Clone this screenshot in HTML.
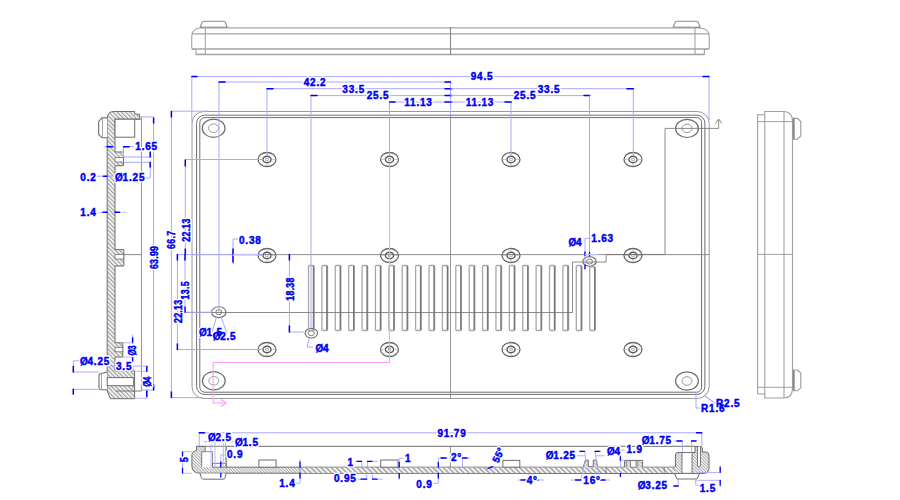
<!DOCTYPE html><html><head><meta charset="utf-8"><style>
html,body{margin:0;padding:0;background:#fff;}
svg{display:block;}
text{font-family:"Liberation Sans",sans-serif;font-weight:bold;}
</style></head><body>
<svg width="900" height="500" viewBox="0 0 900 500">
<defs>
<pattern id="h" patternUnits="userSpaceOnUse" width="2.2" height="2.2" patternTransform="rotate(-45)">
<rect width="2.2" height="2.2" fill="#f4f4f4"/><line x1="0.5" y1="0" x2="0.5" y2="2.2" stroke="#a0a0a0" stroke-width="0.8"/>
</pattern>
<pattern id="h3" patternUnits="userSpaceOnUse" width="3" height="3" patternTransform="rotate(-45)">
<rect width="3" height="3" fill="#f8f8f8"/><line x1="0.7" y1="0" x2="0.7" y2="3" stroke="#8a8a8a" stroke-width="1"/>
</pattern>
<pattern id="h2" patternUnits="userSpaceOnUse" width="3.6" height="3.6" patternTransform="rotate(-45)">
<rect width="3.6" height="3.6" fill="#f6f6f6"/><line x1="0.8" y1="0" x2="0.8" y2="3.6" stroke="#8c8c8c" stroke-width="1.2"/>
</pattern>
</defs>
<rect width="900" height="500" fill="#fff"/>

<path d="M200,27.5 L202,22.6 Q202.6,21.3 204,21.3 L223.3,21.3 Q224.7,21.3 225.3,22.6 L227.3,27.5" stroke="#8a8a8a" stroke-width="1.1" fill="none" />
<path d="M673,27.5 L675,22.6 Q675.6,21.3 677,21.3 L696.3,21.3 Q697.7,21.3 698.3,22.6 L700.2,27.5" stroke="#8a8a8a" stroke-width="1.1" fill="none" />
<line x1="200" y1="27.3" x2="227.3" y2="27.3" stroke="#777" stroke-width="1.2" />
<line x1="673" y1="27.3" x2="700.2" y2="27.3" stroke="#777" stroke-width="1.2" />
<path d="M205.3,28 L200,28 Q191.7,28.5 191.7,37 L191.7,47 Q191.7,49.5 195,49.5 L196,49.5 L196,54.4 L205.3,54.4" stroke="#a4a4a4" stroke-width="1.1" fill="none" />
<path d="M695,28 L700,28 Q709.3,28.5 709.3,37 L709.3,47 Q709.3,49.5 706,49.5 L704.4,49.5 L704.4,54.4 L695,54.4" stroke="#a4a4a4" stroke-width="1.1" fill="none" />
<line x1="205.3" y1="27.8" x2="695" y2="27.8" stroke="#a4a4a4" stroke-width="1.3" />
<line x1="191.7" y1="33.8" x2="709.3" y2="33.8" stroke="#a4a4a4" stroke-width="1.3" />
<line x1="191.7" y1="49" x2="709.3" y2="49" stroke="#a4a4a4" stroke-width="1.3" />
<line x1="196" y1="54.5" x2="704.4" y2="54.5" stroke="#a4a4a4" stroke-width="1.3" />
<line x1="205.3" y1="28" x2="205.3" y2="54.4" stroke="#a4a4a4" stroke-width="1.1" />
<line x1="695" y1="28" x2="695" y2="54.4" stroke="#a4a4a4" stroke-width="1.1" />
<line x1="450.5" y1="27" x2="450.5" y2="55" stroke="#888" stroke-width="1.1" />
<rect x="192" y="111.5" width="517.2" height="287" rx="12" stroke="#9a9a9a" stroke-width="1" fill="none"/>
<rect x="196.6" y="115.2" width="508.3" height="279.2" rx="8" stroke="#6e6e6e" stroke-width="1" fill="none"/>
<rect x="199.8" y="117.6" width="501.8" height="274.6" rx="5" stroke="#6e6e6e" stroke-width="1" fill="none"/>
<line x1="192" y1="254.6" x2="709" y2="254.6" stroke="#808080" stroke-width="0.9" />
<line x1="450.5" y1="115" x2="450.5" y2="398.5" stroke="#8a8a8a" stroke-width="0.9" />
<ellipse cx="267" cy="159.5" rx="9" ry="7" stroke="#666" stroke-width="1.3" fill="none"/>
<ellipse cx="267" cy="159.5" rx="4.1" ry="3.2" stroke="#555" stroke-width="1.4" fill="none"/>
<rect x="265.8" y="158.6" width="2.4" height="1.8" fill="none" stroke="#888" stroke-width="0.6"/>
<line x1="258" y1="159.5" x2="262.9" y2="159.5" stroke="#aaa" stroke-width="0.6" />
<line x1="271.1" y1="159.5" x2="276" y2="159.5" stroke="#aaa" stroke-width="0.6" />
<line x1="267" y1="152.5" x2="267" y2="156.3" stroke="#aaa" stroke-width="0.6" />
<line x1="267" y1="162.7" x2="267" y2="166.5" stroke="#aaa" stroke-width="0.6" />
<ellipse cx="389.5" cy="159.5" rx="9" ry="7" stroke="#666" stroke-width="1.3" fill="none"/>
<ellipse cx="389.5" cy="159.5" rx="4.1" ry="3.2" stroke="#555" stroke-width="1.4" fill="none"/>
<rect x="388.3" y="158.6" width="2.4" height="1.8" fill="none" stroke="#888" stroke-width="0.6"/>
<line x1="380.5" y1="159.5" x2="385.4" y2="159.5" stroke="#aaa" stroke-width="0.6" />
<line x1="393.6" y1="159.5" x2="398.5" y2="159.5" stroke="#aaa" stroke-width="0.6" />
<line x1="389.5" y1="152.5" x2="389.5" y2="156.3" stroke="#aaa" stroke-width="0.6" />
<line x1="389.5" y1="162.7" x2="389.5" y2="166.5" stroke="#aaa" stroke-width="0.6" />
<ellipse cx="511" cy="159.5" rx="9" ry="7" stroke="#666" stroke-width="1.3" fill="none"/>
<ellipse cx="511" cy="159.5" rx="4.1" ry="3.2" stroke="#555" stroke-width="1.4" fill="none"/>
<rect x="509.8" y="158.6" width="2.4" height="1.8" fill="none" stroke="#888" stroke-width="0.6"/>
<line x1="502" y1="159.5" x2="506.9" y2="159.5" stroke="#aaa" stroke-width="0.6" />
<line x1="515.1" y1="159.5" x2="520" y2="159.5" stroke="#aaa" stroke-width="0.6" />
<line x1="511" y1="152.5" x2="511" y2="156.3" stroke="#aaa" stroke-width="0.6" />
<line x1="511" y1="162.7" x2="511" y2="166.5" stroke="#aaa" stroke-width="0.6" />
<ellipse cx="633" cy="159.5" rx="9" ry="7" stroke="#666" stroke-width="1.3" fill="none"/>
<ellipse cx="633" cy="159.5" rx="4.1" ry="3.2" stroke="#555" stroke-width="1.4" fill="none"/>
<rect x="631.8" y="158.6" width="2.4" height="1.8" fill="none" stroke="#888" stroke-width="0.6"/>
<line x1="624" y1="159.5" x2="628.9" y2="159.5" stroke="#aaa" stroke-width="0.6" />
<line x1="637.1" y1="159.5" x2="642" y2="159.5" stroke="#aaa" stroke-width="0.6" />
<line x1="633" y1="152.5" x2="633" y2="156.3" stroke="#aaa" stroke-width="0.6" />
<line x1="633" y1="162.7" x2="633" y2="166.5" stroke="#aaa" stroke-width="0.6" />
<ellipse cx="267" cy="255.5" rx="9" ry="7" stroke="#666" stroke-width="1.3" fill="none"/>
<ellipse cx="267" cy="255.5" rx="4.1" ry="3.2" stroke="#555" stroke-width="1.4" fill="none"/>
<rect x="265.8" y="254.6" width="2.4" height="1.8" fill="none" stroke="#888" stroke-width="0.6"/>
<line x1="258" y1="255.5" x2="262.9" y2="255.5" stroke="#aaa" stroke-width="0.6" />
<line x1="271.1" y1="255.5" x2="276" y2="255.5" stroke="#aaa" stroke-width="0.6" />
<line x1="267" y1="248.5" x2="267" y2="252.3" stroke="#aaa" stroke-width="0.6" />
<line x1="267" y1="258.7" x2="267" y2="262.5" stroke="#aaa" stroke-width="0.6" />
<ellipse cx="389.5" cy="255.5" rx="9" ry="7" stroke="#666" stroke-width="1.3" fill="none"/>
<ellipse cx="389.5" cy="255.5" rx="4.1" ry="3.2" stroke="#555" stroke-width="1.4" fill="none"/>
<rect x="388.3" y="254.6" width="2.4" height="1.8" fill="none" stroke="#888" stroke-width="0.6"/>
<line x1="380.5" y1="255.5" x2="385.4" y2="255.5" stroke="#aaa" stroke-width="0.6" />
<line x1="393.6" y1="255.5" x2="398.5" y2="255.5" stroke="#aaa" stroke-width="0.6" />
<line x1="389.5" y1="248.5" x2="389.5" y2="252.3" stroke="#aaa" stroke-width="0.6" />
<line x1="389.5" y1="258.7" x2="389.5" y2="262.5" stroke="#aaa" stroke-width="0.6" />
<ellipse cx="511" cy="255.5" rx="9" ry="7" stroke="#666" stroke-width="1.3" fill="none"/>
<ellipse cx="511" cy="255.5" rx="4.1" ry="3.2" stroke="#555" stroke-width="1.4" fill="none"/>
<rect x="509.8" y="254.6" width="2.4" height="1.8" fill="none" stroke="#888" stroke-width="0.6"/>
<line x1="502" y1="255.5" x2="506.9" y2="255.5" stroke="#aaa" stroke-width="0.6" />
<line x1="515.1" y1="255.5" x2="520" y2="255.5" stroke="#aaa" stroke-width="0.6" />
<line x1="511" y1="248.5" x2="511" y2="252.3" stroke="#aaa" stroke-width="0.6" />
<line x1="511" y1="258.7" x2="511" y2="262.5" stroke="#aaa" stroke-width="0.6" />
<ellipse cx="633" cy="255.5" rx="9" ry="7" stroke="#666" stroke-width="1.3" fill="none"/>
<ellipse cx="633" cy="255.5" rx="4.1" ry="3.2" stroke="#555" stroke-width="1.4" fill="none"/>
<rect x="631.8" y="254.6" width="2.4" height="1.8" fill="none" stroke="#888" stroke-width="0.6"/>
<line x1="624" y1="255.5" x2="628.9" y2="255.5" stroke="#aaa" stroke-width="0.6" />
<line x1="637.1" y1="255.5" x2="642" y2="255.5" stroke="#aaa" stroke-width="0.6" />
<line x1="633" y1="248.5" x2="633" y2="252.3" stroke="#aaa" stroke-width="0.6" />
<line x1="633" y1="258.7" x2="633" y2="262.5" stroke="#aaa" stroke-width="0.6" />
<ellipse cx="267" cy="349.5" rx="9" ry="7" stroke="#666" stroke-width="1.3" fill="none"/>
<ellipse cx="267" cy="349.5" rx="4.1" ry="3.2" stroke="#555" stroke-width="1.4" fill="none"/>
<rect x="265.8" y="348.6" width="2.4" height="1.8" fill="none" stroke="#888" stroke-width="0.6"/>
<line x1="258" y1="349.5" x2="262.9" y2="349.5" stroke="#aaa" stroke-width="0.6" />
<line x1="271.1" y1="349.5" x2="276" y2="349.5" stroke="#aaa" stroke-width="0.6" />
<line x1="267" y1="342.5" x2="267" y2="346.3" stroke="#aaa" stroke-width="0.6" />
<line x1="267" y1="352.7" x2="267" y2="356.5" stroke="#aaa" stroke-width="0.6" />
<ellipse cx="389.5" cy="349.5" rx="9" ry="7" stroke="#666" stroke-width="1.3" fill="none"/>
<ellipse cx="389.5" cy="349.5" rx="4.1" ry="3.2" stroke="#555" stroke-width="1.4" fill="none"/>
<rect x="388.3" y="348.6" width="2.4" height="1.8" fill="none" stroke="#888" stroke-width="0.6"/>
<line x1="380.5" y1="349.5" x2="385.4" y2="349.5" stroke="#aaa" stroke-width="0.6" />
<line x1="393.6" y1="349.5" x2="398.5" y2="349.5" stroke="#aaa" stroke-width="0.6" />
<line x1="389.5" y1="342.5" x2="389.5" y2="346.3" stroke="#aaa" stroke-width="0.6" />
<line x1="389.5" y1="352.7" x2="389.5" y2="356.5" stroke="#aaa" stroke-width="0.6" />
<ellipse cx="511" cy="349.5" rx="9" ry="7" stroke="#666" stroke-width="1.3" fill="none"/>
<ellipse cx="511" cy="349.5" rx="4.1" ry="3.2" stroke="#555" stroke-width="1.4" fill="none"/>
<rect x="509.8" y="348.6" width="2.4" height="1.8" fill="none" stroke="#888" stroke-width="0.6"/>
<line x1="502" y1="349.5" x2="506.9" y2="349.5" stroke="#aaa" stroke-width="0.6" />
<line x1="515.1" y1="349.5" x2="520" y2="349.5" stroke="#aaa" stroke-width="0.6" />
<line x1="511" y1="342.5" x2="511" y2="346.3" stroke="#aaa" stroke-width="0.6" />
<line x1="511" y1="352.7" x2="511" y2="356.5" stroke="#aaa" stroke-width="0.6" />
<ellipse cx="633" cy="349.5" rx="9" ry="7" stroke="#666" stroke-width="1.3" fill="none"/>
<ellipse cx="633" cy="349.5" rx="4.1" ry="3.2" stroke="#555" stroke-width="1.4" fill="none"/>
<rect x="631.8" y="348.6" width="2.4" height="1.8" fill="none" stroke="#888" stroke-width="0.6"/>
<line x1="624" y1="349.5" x2="628.9" y2="349.5" stroke="#aaa" stroke-width="0.6" />
<line x1="637.1" y1="349.5" x2="642" y2="349.5" stroke="#aaa" stroke-width="0.6" />
<line x1="633" y1="342.5" x2="633" y2="346.3" stroke="#aaa" stroke-width="0.6" />
<line x1="633" y1="352.7" x2="633" y2="356.5" stroke="#aaa" stroke-width="0.6" />
<ellipse cx="213.6" cy="128.2" rx="11.4" ry="9.1" stroke="#6e6e6e" stroke-width="1.2" fill="none"/>
<ellipse cx="213.6" cy="128.2" rx="5" ry="4.3" stroke="#9a9a9a" stroke-width="1" fill="none"/>
<ellipse cx="687" cy="128.4" rx="11.4" ry="9.1" stroke="#6e6e6e" stroke-width="1.2" fill="none"/>
<ellipse cx="687" cy="128.4" rx="5" ry="4.3" stroke="#9a9a9a" stroke-width="1" fill="none"/>
<ellipse cx="213.8" cy="380.8" rx="11.4" ry="9.1" stroke="#6e6e6e" stroke-width="1.2" fill="none"/>
<ellipse cx="213.8" cy="380.8" rx="5" ry="4.3" stroke="#9a9a9a" stroke-width="1" fill="none"/>
<ellipse cx="687" cy="381" rx="11.4" ry="9.1" stroke="#6e6e6e" stroke-width="1.2" fill="none"/>
<ellipse cx="687" cy="381" rx="5" ry="4.3" stroke="#9a9a9a" stroke-width="1" fill="none"/>
<ellipse cx="218.8" cy="312.2" rx="7.2" ry="5.4" stroke="#6e6e6e" stroke-width="1.1" fill="none"/>
<ellipse cx="218.8" cy="312.2" rx="3" ry="2.5" stroke="#6e6e6e" stroke-width="0.9" fill="none"/>
<ellipse cx="311.3" cy="333.2" rx="6.2" ry="4.8" stroke="#6e6e6e" stroke-width="1.1" fill="none"/>
<ellipse cx="311.3" cy="333.2" rx="3" ry="2.5" stroke="#6e6e6e" stroke-width="0.9" fill="none"/>
<ellipse cx="589.5" cy="261.5" rx="6.7" ry="4.7" stroke="#6e6e6e" stroke-width="1.1" fill="none"/>
<ellipse cx="589.5" cy="261.5" rx="3" ry="2.5" stroke="#6e6e6e" stroke-width="0.9" fill="none"/>
<rect x="308.5" y="265.5" width="5.6" height="65.0" rx="1" stroke="#a8a8a8" stroke-width="1.3" fill="none"/>
<line x1="313.5" y1="266.0" x2="313.5" y2="330" stroke="#777" stroke-width="1.4" />
<rect x="321.89" y="265.5" width="5.6" height="65.0" rx="1" stroke="#a8a8a8" stroke-width="1.3" fill="none"/>
<line x1="326.89" y1="266.0" x2="326.89" y2="330" stroke="#777" stroke-width="1.4" />
<rect x="335.28" y="265.5" width="5.6" height="65.0" rx="1" stroke="#a8a8a8" stroke-width="1.3" fill="none"/>
<line x1="340.28" y1="266.0" x2="340.28" y2="330" stroke="#777" stroke-width="1.4" />
<rect x="348.67" y="265.5" width="5.6" height="65.0" rx="1" stroke="#a8a8a8" stroke-width="1.3" fill="none"/>
<line x1="353.67" y1="266.0" x2="353.67" y2="330" stroke="#777" stroke-width="1.4" />
<rect x="362.06" y="265.5" width="5.6" height="65.0" rx="1" stroke="#a8a8a8" stroke-width="1.3" fill="none"/>
<line x1="367.06" y1="266.0" x2="367.06" y2="330" stroke="#777" stroke-width="1.4" />
<rect x="375.45" y="265.5" width="5.6" height="65.0" rx="1" stroke="#a8a8a8" stroke-width="1.3" fill="none"/>
<line x1="380.45" y1="266.0" x2="380.45" y2="330" stroke="#777" stroke-width="1.4" />
<rect x="388.84000000000003" y="265.5" width="5.6" height="65.0" rx="1" stroke="#a8a8a8" stroke-width="1.3" fill="none"/>
<line x1="393.84000000000003" y1="266.0" x2="393.84000000000003" y2="330" stroke="#777" stroke-width="1.4" />
<rect x="402.23" y="265.5" width="5.6" height="65.0" rx="1" stroke="#a8a8a8" stroke-width="1.3" fill="none"/>
<line x1="407.23" y1="266.0" x2="407.23" y2="330" stroke="#777" stroke-width="1.4" />
<rect x="415.62" y="265.5" width="5.6" height="65.0" rx="1" stroke="#a8a8a8" stroke-width="1.3" fill="none"/>
<line x1="420.62" y1="266.0" x2="420.62" y2="330" stroke="#777" stroke-width="1.4" />
<rect x="429.01" y="265.5" width="5.6" height="65.0" rx="1" stroke="#a8a8a8" stroke-width="1.3" fill="none"/>
<line x1="434.01" y1="266.0" x2="434.01" y2="330" stroke="#777" stroke-width="1.4" />
<rect x="442.4" y="265.5" width="5.6" height="65.0" rx="1" stroke="#a8a8a8" stroke-width="1.3" fill="none"/>
<line x1="447.4" y1="266.0" x2="447.4" y2="330" stroke="#777" stroke-width="1.4" />
<rect x="455.79" y="265.5" width="5.6" height="65.0" rx="1" stroke="#a8a8a8" stroke-width="1.3" fill="none"/>
<line x1="460.79" y1="266.0" x2="460.79" y2="330" stroke="#777" stroke-width="1.4" />
<rect x="469.18" y="265.5" width="5.6" height="65.0" rx="1" stroke="#a8a8a8" stroke-width="1.3" fill="none"/>
<line x1="474.18" y1="266.0" x2="474.18" y2="330" stroke="#777" stroke-width="1.4" />
<rect x="482.57" y="265.5" width="5.6" height="65.0" rx="1" stroke="#a8a8a8" stroke-width="1.3" fill="none"/>
<line x1="487.57" y1="266.0" x2="487.57" y2="330" stroke="#777" stroke-width="1.4" />
<rect x="495.96000000000004" y="265.5" width="5.6" height="65.0" rx="1" stroke="#a8a8a8" stroke-width="1.3" fill="none"/>
<line x1="500.96000000000004" y1="266.0" x2="500.96000000000004" y2="330" stroke="#777" stroke-width="1.4" />
<rect x="509.35" y="265.5" width="5.6" height="65.0" rx="1" stroke="#a8a8a8" stroke-width="1.3" fill="none"/>
<line x1="514.35" y1="266.0" x2="514.35" y2="330" stroke="#777" stroke-width="1.4" />
<rect x="522.74" y="265.5" width="5.6" height="65.0" rx="1" stroke="#a8a8a8" stroke-width="1.3" fill="none"/>
<line x1="527.74" y1="266.0" x2="527.74" y2="330" stroke="#777" stroke-width="1.4" />
<rect x="536.13" y="265.5" width="5.6" height="65.0" rx="1" stroke="#a8a8a8" stroke-width="1.3" fill="none"/>
<line x1="541.13" y1="266.0" x2="541.13" y2="330" stroke="#777" stroke-width="1.4" />
<rect x="549.52" y="265.5" width="5.6" height="65.0" rx="1" stroke="#a8a8a8" stroke-width="1.3" fill="none"/>
<line x1="554.52" y1="266.0" x2="554.52" y2="330" stroke="#777" stroke-width="1.4" />
<rect x="562.9100000000001" y="265.5" width="5.6" height="65.0" rx="1" stroke="#a8a8a8" stroke-width="1.3" fill="none"/>
<line x1="567.9100000000001" y1="266.0" x2="567.9100000000001" y2="330" stroke="#777" stroke-width="1.4" />
<rect x="576.3" y="265.5" width="5.6" height="65.0" rx="1" stroke="#a8a8a8" stroke-width="1.3" fill="none"/>
<line x1="581.3" y1="266.0" x2="581.3" y2="330" stroke="#777" stroke-width="1.4" />
<rect x="589.69" y="267" width="5.6" height="63.5" rx="1" stroke="#a8a8a8" stroke-width="1.3" fill="none"/>
<line x1="594.69" y1="267.5" x2="594.69" y2="330" stroke="#777" stroke-width="1.4" />
<path d="M185,312.5 L572.5,312.5 L572.5,262 L590,262 L606.2,262 L606.2,254.6" stroke="#6e6e6e" stroke-width="0.8" fill="none" />
<path d="M607,254.6 L665,254.6 L665,128.4 L718.7,128.4 L718.7,120" stroke="#6e6e6e" stroke-width="0.8" fill="none" />
<path d="M715.5,123.5 L718.7,119 L721.9,123.5" stroke="#6e6e6e" stroke-width="0.8" fill="none" />
<path d="M107.2,390 L107.2,118.5 Q107.2,111.5 114,111.5 L134.7,111.5 L134.7,114.2 L139.7,114.2 L139.7,119.2 L115,119.2 L115,152 L123.5,152 L123.5,165.7 L115,165.7 L115,249.6 L123.8,249.6 L123.8,266 L115,266 L115,342.8 L122.8,342.8 L122.8,357 L115,357 L115,370.8 L134.6,370.8 L134.6,398.7 L110.3,398.7 L107.2,391 Z" stroke="#6e6e6e" stroke-width="1" fill="url(#h3)" />
<rect x="115" y="119.2" width="19.7" height="18" rx="0" stroke="#6e6e6e" stroke-width="1" fill="#fff"/>
<line x1="134.7" y1="119.2" x2="141.5" y2="119.2" stroke="#6e6e6e" stroke-width="0.8" />
<rect x="115" y="157.6" width="8.5" height="4.4" rx="0" stroke="#6e6e6e" stroke-width="0.8" fill="#fff"/>
<rect x="115" y="254.4" width="8.8" height="4.6" rx="0" stroke="#6e6e6e" stroke-width="0.8" fill="#fff"/>
<rect x="115" y="347.3" width="7.8" height="4.5" rx="0" stroke="#6e6e6e" stroke-width="0.8" fill="#fff"/>
<line x1="123.8" y1="254.6" x2="141.5" y2="254.6" stroke="#6e6e6e" stroke-width="0.8" />
<path d="M107.2,117.9 L102,117.9 L98.7,121.5 L98.7,134.5 L102,137.8 L107.2,137.8" stroke="#6e6e6e" stroke-width="1.1" fill="#fff" />
<line x1="102.5" y1="118.2" x2="102.5" y2="137.5" stroke="#9a9a9a" stroke-width="0.9" />
<path d="M107.2,372.2 L100.5,373.5 Q99,373.7 99,375.5 L99,387.8 Q99,389.7 100.5,389.7 L107.2,389.7" stroke="#6e6e6e" stroke-width="1.1" fill="#fff" />
<line x1="101.5" y1="374" x2="101.5" y2="389.3" stroke="#9a9a9a" stroke-width="0.9" />
<rect x="107.2" y="377.6" width="26.5" height="8.1" rx="0" stroke="#6e6e6e" stroke-width="1" fill="#fff"/>
<line x1="115.7" y1="391" x2="141.5" y2="391" stroke="#6e6e6e" stroke-width="0.9" />
<line x1="141.5" y1="116.4" x2="141.5" y2="391" stroke="#9a9a9a" stroke-width="1.1" />
<path d="M757.6,394 L757.6,114.7 L764.8,114.7" stroke="#a0a0a0" stroke-width="1.1" fill="none" />
<path d="M764.8,398 L764.8,111.5 L784,111.5 Q792.5,112 792.5,121 L792.5,388 Q792.5,398 784,398 Z" stroke="#a0a0a0" stroke-width="1.1" fill="none" />
<line x1="784" y1="111.5" x2="784" y2="398" stroke="#a0a0a0" stroke-width="1.1" />
<line x1="757.6" y1="121.6" x2="792.5" y2="121.6" stroke="#a0a0a0" stroke-width="1" />
<line x1="757.6" y1="254.4" x2="792.5" y2="254.4" stroke="#a0a0a0" stroke-width="1" />
<line x1="757.6" y1="387.3" x2="792.5" y2="387.3" stroke="#a0a0a0" stroke-width="1" />
<line x1="757.6" y1="394" x2="764.8" y2="394" stroke="#a0a0a0" stroke-width="1.1" />
<path d="M792.5,118.4 L797.5,118.4 L800.8,121.5 L800.8,136 L797.5,139.2 L792.5,139.2" stroke="#999" stroke-width="1.1" fill="none" />
<line x1="793.8" y1="118.6" x2="793.8" y2="139" stroke="#888" stroke-width="1.8" />
<path d="M792.5,370 L797.5,370 L800.8,373 L800.8,387.8 L797.5,390.8 L792.5,390.8" stroke="#999" stroke-width="1.1" fill="none" />
<line x1="793.8" y1="370.2" x2="793.8" y2="390.6" stroke="#888" stroke-width="1.8" />
<path d="M226,467.2 L583.2,467.2 L585.4,460.2 L588.3,460.2 L588.3,466.7 L593.3,466.7 L593.3,460.2 L596.4,460.2 L597.6,467.2 L624.6,467.2 L624.6,460.4 L642.6,460.4 L642.6,467.2 L675.5,467.2 L675.5,455 Q675.5,452.5 678,452.5 L695,452.5 L695,446.5 L700.5,446.5 Q702.5,446.5 702.5,449 L702.5,452 L706,452 Q709,452 709,455.5 L709,468 Q709,473.5 703,473.5 L226,473.2 Q221,473.2 199.7,473.2 Q191.9,473 191.9,466 L191.9,455 Q191.9,451.5 196.5,450.4 L196.5,446.5 L226,446.5 Z" stroke="#6e6e6e" stroke-width="1" fill="url(#h)" />
<line x1="196.5" y1="446.3" x2="695" y2="446.3" stroke="#6e6e6e" stroke-width="1" />
<rect x="300.5" y="467.6" width="375" height="5.3" rx="0" stroke="none" stroke-width="0" fill="url(#h2)"/>
<line x1="450.4" y1="446.3" x2="450.4" y2="467.2" stroke="#6e6e6e" stroke-width="0.8" />
<path d="M201.7,467.2 L201.7,451.7 L205.2,451.7 L205.2,446.8 L226,446.8 L226,467.2 Z" stroke="#fff" stroke-width="0.1" fill="#fff" />
<path d="M201.7,467.2 L201.7,451.7 L205.2,451.7 L205.2,446.8" stroke="#6e6e6e" stroke-width="0.9" fill="none" />
<line x1="205.2" y1="451.7" x2="212.5" y2="451.7" stroke="#6e6e6e" stroke-width="0.8" />
<line x1="212.5" y1="451.7" x2="212.5" y2="467.2" stroke="#6e6e6e" stroke-width="0.8" />
<rect x="212.5" y="463.3" width="13.3" height="3.9" rx="0" stroke="#6e6e6e" stroke-width="0.9" fill="#fff"/>
<line x1="226" y1="446.5" x2="226" y2="467.2" stroke="#6e6e6e" stroke-width="0.9" />
<path d="M200.2,473.4 L201.2,477.4 Q201.8,479.2 203.5,479.2 L223,479.2 Q224.7,479.2 225.2,477.4 L226,473.4" stroke="#6e6e6e" stroke-width="1" fill="#fff" />
<path d="M674.5,473.5 L677,479 L697,479 L699.5,473.5 Z" stroke="#6e6e6e" stroke-width="1" fill="#fff" />
<rect x="630.6" y="460.6" width="5.4" height="6.6" rx="0" stroke="#6e6e6e" stroke-width="0.8" fill="#fff"/>
<line x1="626.4" y1="460.6" x2="626.4" y2="467.2" stroke="#6e6e6e" stroke-width="0.6" />
<line x1="637.8" y1="460.6" x2="637.8" y2="467.2" stroke="#6e6e6e" stroke-width="0.6" />
<path d="M682,452.5 L682,473.3 L692,473.3 L692,452.5 Z" stroke="#6e6e6e" stroke-width="0.9" fill="#fff" />
<path d="M697.5,446.7 L697.5,465.5 Q697.5,467 699,467 Q700.5,467 700.5,465.5 L700.5,446.7" stroke="#6e6e6e" stroke-width="0.9" fill="#fff" />
<rect x="258.9" y="460" width="17.2" height="7.2" rx="0" stroke="#6e6e6e" stroke-width="1" fill="#fff"/>
<rect x="380.7" y="460" width="17.3" height="7.2" rx="0" stroke="#6e6e6e" stroke-width="1" fill="#fff"/>
<rect x="502.9" y="460.4" width="16.9" height="6.8" rx="0" stroke="#6e6e6e" stroke-width="1" fill="#fff"/>
<line x1="300" y1="467.2" x2="300" y2="473.2" stroke="#6e6e6e" stroke-width="0.7" />
<line x1="606" y1="467.2" x2="606" y2="473.2" stroke="#6e6e6e" stroke-width="0.7" />
<line x1="664.3" y1="467.2" x2="664.3" y2="473.2" stroke="#6e6e6e" stroke-width="0.7" />
<line x1="450.5" y1="82" x2="450.5" y2="115" stroke="#a8a8ff" stroke-width="1" />
<path d="M389.5,166 L389.5,362.5 L213.2,362.5 L213.2,403 L226,403" stroke="#ff9cff" stroke-width="1.1" fill="none" />
<path d="M221,399.5 L226,403 L221,406.5" stroke="#ff9cff" stroke-width="1.2" fill="none" />
<line x1="191.8" y1="76.6" x2="709" y2="76.6" stroke="#a8a8ff" stroke-width="1" />
<line x1="191.8" y1="76.6" x2="191.8" y2="122" stroke="#a8a8ff" stroke-width="1" />
<line x1="709" y1="76.6" x2="709" y2="120" stroke="#a8a8ff" stroke-width="1" />
<line x1="191.8" y1="76.6" x2="197" y2="76.6" stroke="#0000ff" stroke-width="1.5" stroke-linecap="round"/>
<line x1="703" y1="76.6" x2="709" y2="76.6" stroke="#0000ff" stroke-width="1.5" stroke-linecap="round"/>
<line x1="219" y1="82" x2="450.5" y2="82" stroke="#a8a8ff" stroke-width="1" />
<line x1="219" y1="82" x2="219" y2="312" stroke="#a8a8ff" stroke-width="1" />
<line x1="219" y1="82" x2="225" y2="82" stroke="#0000ff" stroke-width="1.5" stroke-linecap="round"/>
<line x1="445" y1="82" x2="450.5" y2="82" stroke="#0000ff" stroke-width="1.5" stroke-linecap="round"/>
<line x1="267" y1="88.7" x2="450.5" y2="88.7" stroke="#a8a8ff" stroke-width="1" />
<line x1="267" y1="88.7" x2="267" y2="155.8" stroke="#a8a8ff" stroke-width="1" />
<line x1="267" y1="88.7" x2="273" y2="88.7" stroke="#0000ff" stroke-width="1.5" stroke-linecap="round"/>
<line x1="445" y1="88.7" x2="452" y2="88.7" stroke="#0000ff" stroke-width="1.5" stroke-linecap="round"/>
<line x1="450.5" y1="88.7" x2="633.3" y2="88.7" stroke="#a8a8ff" stroke-width="1" />
<line x1="633.3" y1="88.7" x2="633.3" y2="155.8" stroke="#a8a8ff" stroke-width="1" />
<line x1="627" y1="88.7" x2="633.3" y2="88.7" stroke="#0000ff" stroke-width="1.5" stroke-linecap="round"/>
<line x1="311" y1="95.6" x2="450.5" y2="95.6" stroke="#a8a8ff" stroke-width="1" />
<line x1="311" y1="95.6" x2="311" y2="328" stroke="#a8a8ff" stroke-width="1" />
<line x1="311" y1="95.6" x2="317" y2="95.6" stroke="#0000ff" stroke-width="1.5" stroke-linecap="round"/>
<line x1="445" y1="95.6" x2="452" y2="95.6" stroke="#0000ff" stroke-width="1.5" stroke-linecap="round"/>
<line x1="450.5" y1="95.6" x2="589.8" y2="95.6" stroke="#a8a8ff" stroke-width="1" />
<line x1="584" y1="95.6" x2="589.8" y2="95.6" stroke="#0000ff" stroke-width="1.5" stroke-linecap="round"/>
<line x1="389.7" y1="102" x2="450.5" y2="102" stroke="#a8a8ff" stroke-width="1" />
<line x1="389.5" y1="102" x2="389.5" y2="155.8" stroke="#a8a8ff" stroke-width="1" />
<line x1="389.7" y1="102" x2="395" y2="102" stroke="#0000ff" stroke-width="1.5" stroke-linecap="round"/>
<line x1="445" y1="102" x2="452" y2="102" stroke="#0000ff" stroke-width="1.5" stroke-linecap="round"/>
<line x1="450.5" y1="102" x2="511.2" y2="102" stroke="#a8a8ff" stroke-width="1" />
<line x1="511" y1="102" x2="511" y2="155.8" stroke="#a8a8ff" stroke-width="1" />
<line x1="505" y1="102" x2="511.2" y2="102" stroke="#0000ff" stroke-width="1.5" stroke-linecap="round"/>
<line x1="171.4" y1="111.5" x2="171.4" y2="397.6" stroke="#a8a8ff" stroke-width="1" />
<line x1="171" y1="111.2" x2="209" y2="111.2" stroke="#a8a8ff" stroke-width="1" />
<line x1="171" y1="397.6" x2="203" y2="397.6" stroke="#a8a8ff" stroke-width="1" />
<line x1="171.4" y1="111.5" x2="171.4" y2="117" stroke="#0000ff" stroke-width="1.5" stroke-linecap="round"/>
<line x1="171.4" y1="392" x2="171.4" y2="397.6" stroke="#0000ff" stroke-width="1.5" stroke-linecap="round"/>
<line x1="185.3" y1="160" x2="185.3" y2="254.6" stroke="#a8a8ff" stroke-width="1" />
<line x1="185.3" y1="159.5" x2="263" y2="159.5" stroke="#a8a8ff" stroke-width="1" />
<line x1="185.3" y1="160" x2="185.3" y2="166" stroke="#0000ff" stroke-width="1.5" stroke-linecap="round"/>
<line x1="185.3" y1="249" x2="185.3" y2="254.6" stroke="#0000ff" stroke-width="1.5" stroke-linecap="round"/>
<line x1="177" y1="254.6" x2="263" y2="254.6" stroke="#a8a8ff" stroke-width="1" />
<line x1="185" y1="254.6" x2="185" y2="312.2" stroke="#a8a8ff" stroke-width="1" />
<line x1="185" y1="312.2" x2="212" y2="312.2" stroke="#a8a8ff" stroke-width="1" />
<line x1="185" y1="254.6" x2="185" y2="260" stroke="#0000ff" stroke-width="1.5" stroke-linecap="round"/>
<line x1="185" y1="307" x2="185" y2="312.2" stroke="#0000ff" stroke-width="1.5" stroke-linecap="round"/>
<line x1="177.4" y1="254.6" x2="177.4" y2="349.5" stroke="#a8a8ff" stroke-width="1" />
<line x1="177.4" y1="349.5" x2="263" y2="349.5" stroke="#a8a8ff" stroke-width="1" />
<line x1="177.4" y1="254.6" x2="177.4" y2="260" stroke="#0000ff" stroke-width="1.5" stroke-linecap="round"/>
<line x1="177.4" y1="344" x2="177.4" y2="349.5" stroke="#0000ff" stroke-width="1.5" stroke-linecap="round"/>
<path d="M233,264 L233,239 L239,239" stroke="#a8a8ff" stroke-width="1" fill="none" />
<line x1="233" y1="249" x2="233" y2="254.6" stroke="#0000ff" stroke-width="1.5" stroke-linecap="round"/>
<line x1="233" y1="256" x2="233" y2="262" stroke="#0000ff" stroke-width="1.5" stroke-linecap="round"/>
<line x1="233" y1="254.6" x2="258" y2="254.6" stroke="#c0c0ff" stroke-width="1.5" />
<line x1="289.4" y1="254.6" x2="289.4" y2="332" stroke="#a8a8ff" stroke-width="1" />
<line x1="289.4" y1="332" x2="304" y2="332" stroke="#a8a8ff" stroke-width="1" />
<line x1="289.4" y1="254.6" x2="289.4" y2="260" stroke="#0000ff" stroke-width="1.5" stroke-linecap="round"/>
<line x1="289.4" y1="326" x2="289.4" y2="332" stroke="#0000ff" stroke-width="1.5" stroke-linecap="round"/>
<path d="M309,339 L307,347 L313,347" stroke="#a8a8ff" stroke-width="1" fill="none" />
<line x1="212" y1="332" x2="216.5" y2="317" stroke="#a8a8ff" stroke-width="1" />
<line x1="227" y1="333" x2="221" y2="317" stroke="#a8a8ff" stroke-width="1" />
<path d="M585,270 L585,238.4 L591.3,238.4" stroke="#a8a8ff" stroke-width="0.9" fill="none" />
<line x1="589.5" y1="95.6" x2="589.5" y2="256" stroke="#a8a8ff" stroke-width="1" />
<line x1="585" y1="252" x2="585" y2="255.5" stroke="#0000ff" stroke-width="1.3" stroke-linecap="round"/>
<line x1="589.5" y1="252.5" x2="589.5" y2="256" stroke="#0000ff" stroke-width="1.3" stroke-linecap="round"/>
<line x1="585" y1="265" x2="585" y2="268.5" stroke="#0000ff" stroke-width="1.3" stroke-linecap="round"/>
<line x1="585" y1="254.6" x2="598" y2="254.6" stroke="#c0c0ff" stroke-width="1.2" />
<line x1="704" y1="395" x2="716" y2="404" stroke="#a8a8ff" stroke-width="1.2" />
<path d="M696,393 L696,408 L702,408" stroke="#a8a8ff" stroke-width="1" fill="none" />
<line x1="153.6" y1="116.9" x2="153.6" y2="390" stroke="#a8a8ff" stroke-width="1" />
<line x1="141.5" y1="116.9" x2="153.6" y2="116.9" stroke="#a8a8ff" stroke-width="1" />
<line x1="141.5" y1="390" x2="153.6" y2="390" stroke="#a8a8ff" stroke-width="1" />
<line x1="153.6" y1="118" x2="153.6" y2="123" stroke="#0000ff" stroke-width="1.5" stroke-linecap="round"/>
<line x1="153.6" y1="385" x2="153.6" y2="390" stroke="#0000ff" stroke-width="1.5" stroke-linecap="round"/>
<path d="M123.5,157 L123.5,146.7 L133.5,146.7" stroke="#a8a8ff" stroke-width="1" fill="none" />
<line x1="123.5" y1="146.7" x2="129" y2="146.7" stroke="#0000ff" stroke-width="1.5" stroke-linecap="round"/>
<line x1="123.5" y1="157" x2="150.2" y2="157" stroke="#a8a8ff" stroke-width="1" />
<line x1="123.5" y1="162.3" x2="150.2" y2="162.3" stroke="#a8a8ff" stroke-width="1" />
<line x1="150.2" y1="150.7" x2="150.2" y2="157" stroke="#a8a8ff" stroke-width="1" />
<line x1="150.2" y1="162.3" x2="150.2" y2="178" stroke="#a8a8ff" stroke-width="1" />
<line x1="141.5" y1="178" x2="150.2" y2="178" stroke="#a8a8ff" stroke-width="1" />
<line x1="150.2" y1="152" x2="150.2" y2="157" stroke="#0000ff" stroke-width="1.5" stroke-linecap="round"/>
<line x1="150.2" y1="162.3" x2="150.2" y2="167" stroke="#0000ff" stroke-width="1.5" stroke-linecap="round"/>
<line x1="104.3" y1="146.7" x2="114.2" y2="146.7" stroke="#a8a8ff" stroke-width="1" />
<line x1="107" y1="146.7" x2="112.5" y2="146.7" stroke="#0000ff" stroke-width="1.5" stroke-linecap="round"/>
<line x1="96" y1="176.2" x2="112" y2="176.2" stroke="#a8a8ff" stroke-width="1" />
<line x1="103.5" y1="176.2" x2="107" y2="176.2" stroke="#0000ff" stroke-width="1.5" stroke-linecap="round"/>
<line x1="96" y1="212.3" x2="106" y2="212.3" stroke="#a8a8ff" stroke-width="1" stroke-dasharray="2.5,1.5"/>
<line x1="115" y1="212.3" x2="126.3" y2="212.3" stroke="#a8a8ff" stroke-width="1" stroke-dasharray="2.5,1.5"/>
<line x1="103" y1="212.3" x2="107" y2="212.3" stroke="#0000ff" stroke-width="1.5" stroke-linecap="round"/>
<line x1="115" y1="212.3" x2="119.5" y2="212.3" stroke="#0000ff" stroke-width="1.5" stroke-linecap="round"/>
<line x1="132.6" y1="334.5" x2="132.6" y2="342.8" stroke="#a8a8ff" stroke-width="1" />
<line x1="132.6" y1="357" x2="132.6" y2="361.5" stroke="#a8a8ff" stroke-width="1" />
<line x1="132.6" y1="338" x2="132.6" y2="342.8" stroke="#0000ff" stroke-width="1.5" stroke-linecap="round"/>
<line x1="132.6" y1="357" x2="132.6" y2="361.5" stroke="#0000ff" stroke-width="1.5" stroke-linecap="round"/>
<line x1="122.8" y1="342.8" x2="134" y2="342.8" stroke="#a8a8ff" stroke-width="0.8" />
<line x1="122.8" y1="357" x2="134" y2="357" stroke="#a8a8ff" stroke-width="0.8" />
<path d="M80,360.8 L73.3,360.8 L73.3,372 L98.8,372" stroke="#a8a8ff" stroke-width="1" fill="none" />
<path d="M73.3,395.3 L73.3,389.3 L98,389.3" stroke="#a8a8ff" stroke-width="1" fill="none" />
<line x1="73.3" y1="366.5" x2="73.3" y2="372" stroke="#0000ff" stroke-width="1.5" stroke-linecap="round"/>
<line x1="73.3" y1="389.3" x2="73.3" y2="394" stroke="#0000ff" stroke-width="1.5" stroke-linecap="round"/>
<line x1="110" y1="366" x2="116" y2="366" stroke="#a8a8ff" stroke-width="1" />
<path d="M133.3,371.5 L133.3,366 L146.8,366" stroke="#a8a8ff" stroke-width="1" fill="none" />
<line x1="134.7" y1="371.3" x2="147" y2="371.3" stroke="#a8a8ff" stroke-width="0.8" />
<line x1="146.8" y1="366" x2="146.8" y2="372" stroke="#a8a8ff" stroke-width="1" />
<line x1="146.8" y1="390" x2="146.8" y2="397.6" stroke="#a8a8ff" stroke-width="1" />
<line x1="146.8" y1="366.5" x2="146.8" y2="371.3" stroke="#0000ff" stroke-width="1.5" stroke-linecap="round"/>
<line x1="146.8" y1="391" x2="146.8" y2="396.5" stroke="#0000ff" stroke-width="1.5" stroke-linecap="round"/>
<line x1="134.6" y1="398.2" x2="148" y2="398.2" stroke="#a8a8ff" stroke-width="0.8" />
<line x1="199.2" y1="432.8" x2="701.8" y2="432.8" stroke="#a8a8ff" stroke-width="1" />
<line x1="199.2" y1="432.8" x2="199.2" y2="446.3" stroke="#a8a8ff" stroke-width="1" />
<line x1="701.8" y1="432.8" x2="701.8" y2="446.3" stroke="#a8a8ff" stroke-width="1" />
<line x1="199.2" y1="432.8" x2="204.5" y2="432.8" stroke="#0000ff" stroke-width="1.4" stroke-linecap="round"/>
<line x1="696.5" y1="432.8" x2="701.8" y2="432.8" stroke="#0000ff" stroke-width="1.4" stroke-linecap="round"/>
<line x1="204" y1="441.7" x2="235" y2="441.7" stroke="#a8a8ff" stroke-width="0.9" />
<line x1="211" y1="441.7" x2="211" y2="467" stroke="#a8a8ff" stroke-width="0.8" />
<line x1="215" y1="441.7" x2="215" y2="467" stroke="#a8a8ff" stroke-width="0.8" />
<line x1="223.3" y1="443" x2="223.3" y2="467" stroke="#a8a8ff" stroke-width="0.8" />
<line x1="225.5" y1="443" x2="225.5" y2="467" stroke="#a8a8ff" stroke-width="0.8" />
<path d="M220.8,467 L220.8,455 L225,455" stroke="#a8a8ff" stroke-width="0.9" fill="none" />
<line x1="220.8" y1="462" x2="220.8" y2="467" stroke="#0000ff" stroke-width="1.3" stroke-linecap="round"/>
<line x1="220.8" y1="473.5" x2="220.8" y2="477" stroke="#0000ff" stroke-width="1.3" stroke-linecap="round"/>
<line x1="182.5" y1="451.7" x2="182.5" y2="473.3" stroke="#a8a8ff" stroke-width="1" />
<line x1="182.5" y1="451.7" x2="192" y2="451.7" stroke="#a8a8ff" stroke-width="0.8" />
<line x1="182.5" y1="473.3" x2="192" y2="473.3" stroke="#a8a8ff" stroke-width="0.8" />
<line x1="182.5" y1="452" x2="182.5" y2="456.5" stroke="#0000ff" stroke-width="1.3" stroke-linecap="round"/>
<line x1="182.5" y1="468.5" x2="182.5" y2="473" stroke="#0000ff" stroke-width="1.3" stroke-linecap="round"/>
<path d="M300,459.2 L300,467 M300,473.3 L300,483.3 L295,483.3" stroke="#a8a8ff" stroke-width="0.9" fill="none" />
<line x1="300" y1="462" x2="300" y2="467" stroke="#0000ff" stroke-width="1.3" stroke-linecap="round"/>
<line x1="300" y1="473.5" x2="300" y2="478" stroke="#0000ff" stroke-width="1.3" stroke-linecap="round"/>
<path d="M355.8,461.3 L361.7,461.3 L361.7,467" stroke="#a8a8ff" stroke-width="0.9" fill="none" />
<line x1="357" y1="461.3" x2="361.7" y2="461.3" stroke="#0000ff" stroke-width="1.3" stroke-linecap="round"/>
<path d="M378,461.3 L367.5,461.3 L367.5,467" stroke="#a8a8ff" stroke-width="0.9" fill="none" />
<line x1="367.5" y1="461.3" x2="372" y2="461.3" stroke="#0000ff" stroke-width="1.3" stroke-linecap="round"/>
<path d="M357.5,479.2 L366.7,479.2 L366.7,473.3" stroke="#a8a8ff" stroke-width="0.9" fill="none" />
<line x1="361" y1="479.2" x2="366.7" y2="479.2" stroke="#0000ff" stroke-width="1.3" stroke-linecap="round"/>
<path d="M383,479.2 L372.5,479.2 L372.5,473.3" stroke="#a8a8ff" stroke-width="0.9" fill="none" />
<line x1="372.5" y1="479.2" x2="377" y2="479.2" stroke="#0000ff" stroke-width="1.3" stroke-linecap="round"/>
<path d="M404,458.3 L399.2,458.3 L399.2,467 M399.2,473.3 L399.2,480" stroke="#a8a8ff" stroke-width="0.9" fill="none" />
<line x1="399.2" y1="462.5" x2="399.2" y2="467" stroke="#0000ff" stroke-width="1.3" stroke-linecap="round"/>
<line x1="399.2" y1="473.5" x2="399.2" y2="478" stroke="#0000ff" stroke-width="1.3" stroke-linecap="round"/>
<path d="M431.5,483.3 L438.3,483.3 L438.3,473.3 M438.3,467 L438.3,458 L448.3,458" stroke="#a8a8ff" stroke-width="0.9" fill="none" />
<line x1="438.3" y1="473.5" x2="438.3" y2="478" stroke="#0000ff" stroke-width="1.3" stroke-linecap="round"/>
<line x1="438.3" y1="462.5" x2="438.3" y2="467" stroke="#0000ff" stroke-width="1.3" stroke-linecap="round"/>
<line x1="441" y1="458" x2="446" y2="458" stroke="#0000ff" stroke-width="1.3" stroke-linecap="round"/>
<path d="M470,458 L462.5,458 L462.5,467" stroke="#a8a8ff" stroke-width="0.9" fill="none" />
<line x1="462.5" y1="458" x2="467" y2="458" stroke="#0000ff" stroke-width="1.3" stroke-linecap="round"/>
<line x1="485" y1="470" x2="492.5" y2="466.7" stroke="#a8a8ff" stroke-width="1" />
<line x1="488" y1="468.5" x2="492.5" y2="466.7" stroke="#0000ff" stroke-width="1.3" stroke-linecap="round"/>
<line x1="517.5" y1="480" x2="525.8" y2="480" stroke="#a8a8ff" stroke-width="0.9" />
<line x1="534" y1="480" x2="544" y2="480" stroke="#a8a8ff" stroke-width="0.9" />
<line x1="521" y1="480" x2="525.8" y2="480" stroke="#0000ff" stroke-width="1.3" stroke-linecap="round"/>
<line x1="534" y1="480" x2="538" y2="480" stroke="#0000ff" stroke-width="1.3" stroke-linecap="round"/>
<line x1="528.3" y1="473.3" x2="528.3" y2="478" stroke="#a8a8ff" stroke-width="0.8" />
<line x1="533.3" y1="473.3" x2="533.3" y2="478" stroke="#a8a8ff" stroke-width="0.8" />
<path d="M579.2,451.3 L585,451.3 L585.4,460.2" stroke="#a8a8ff" stroke-width="0.9" fill="none" />
<line x1="580" y1="451.3" x2="584.5" y2="451.3" stroke="#0000ff" stroke-width="1.3" stroke-linecap="round"/>
<path d="M576.7,455.8 L585,455.8" stroke="#a8a8ff" stroke-width="0.9" fill="none" />
<path d="M601.7,451.3 L595,451.3 L596.4,460.2" stroke="#a8a8ff" stroke-width="0.9" fill="none" />
<line x1="595" y1="451.3" x2="599.5" y2="451.3" stroke="#0000ff" stroke-width="1.3" stroke-linecap="round"/>
<path d="M605,455.8 L595,455.8" stroke="#a8a8ff" stroke-width="0.9" fill="none" />
<path d="M570.8,480 L580.8,480 L585.4,460.2" stroke="#a8a8ff" stroke-width="0.9" fill="none" />
<line x1="575.5" y1="480" x2="580.8" y2="480" stroke="#0000ff" stroke-width="1.3" stroke-linecap="round"/>
<path d="M610,480 L600,480 L596.4,460.2" stroke="#a8a8ff" stroke-width="0.9" fill="none" />
<line x1="600" y1="480" x2="605" y2="480" stroke="#0000ff" stroke-width="1.3" stroke-linecap="round"/>
<path d="M625,450 L620.4,450 L620.4,467 M620.4,473.3 L620.4,476.4" stroke="#a8a8ff" stroke-width="0.9" fill="none" />
<line x1="620.4" y1="456" x2="620.4" y2="460.5" stroke="#0000ff" stroke-width="1.3" stroke-linecap="round"/>
<line x1="620.4" y1="473.5" x2="620.4" y2="476.4" stroke="#0000ff" stroke-width="1.3" stroke-linecap="round"/>
<line x1="620.4" y1="460.4" x2="624.6" y2="460.4" stroke="#a8a8ff" stroke-width="0.8" />
<path d="M674,441 L682.4,441 L682.4,452.5" stroke="#a8a8ff" stroke-width="0.9" fill="none" />
<line x1="677" y1="441" x2="682" y2="441" stroke="#0000ff" stroke-width="1.3" stroke-linecap="round"/>
<path d="M697,441 L691.5,441 L691.5,452.5" stroke="#a8a8ff" stroke-width="0.9" fill="none" />
<line x1="691.5" y1="441" x2="696" y2="441" stroke="#0000ff" stroke-width="1.3" stroke-linecap="round"/>
<path d="M672.6,486 L678.2,486 L678.2,479.2" stroke="#a8a8ff" stroke-width="0.9" fill="none" />
<line x1="674" y1="486" x2="678.2" y2="486" stroke="#0000ff" stroke-width="1.3" stroke-linecap="round"/>
<path d="M699,485.2 L695.7,485.2 L695.7,479.2" stroke="#a8a8ff" stroke-width="0.9" fill="none" />
<path d="M698.5,472.6 L720.2,472.6 M695,480.3 L720.2,480.3 M720.2,465 L720.2,472.6 M720.2,480.3 L720.2,487.3" stroke="#a8a8ff" stroke-width="0.9" fill="none" />
<line x1="720.2" y1="467.5" x2="720.2" y2="472.3" stroke="#0000ff" stroke-width="1.3" stroke-linecap="round"/>
<line x1="720.2" y1="480.5" x2="720.2" y2="485" stroke="#0000ff" stroke-width="1.3" stroke-linecap="round"/>
<text x="482" y="79.5" font-size="10" text-anchor="middle" fill="#fff" stroke="#fff" stroke-width="3.2" stroke-linejoin="round" letter-spacing="0.8">94.5</text>
<text x="315" y="85.9" font-size="10" text-anchor="middle" fill="#fff" stroke="#fff" stroke-width="3.2" stroke-linejoin="round" letter-spacing="0.8">42.2</text>
<text x="353.7" y="92.6" font-size="10" text-anchor="middle" fill="#fff" stroke="#fff" stroke-width="3.2" stroke-linejoin="round" letter-spacing="0.8">33.5</text>
<text x="549" y="92.5" font-size="10" text-anchor="middle" fill="#fff" stroke="#fff" stroke-width="3.2" stroke-linejoin="round" letter-spacing="0.8">33.5</text>
<text x="378" y="99.3" font-size="10" text-anchor="middle" fill="#fff" stroke="#fff" stroke-width="3.2" stroke-linejoin="round" letter-spacing="0.8">25.5</text>
<text x="525" y="99" font-size="10" text-anchor="middle" fill="#fff" stroke="#fff" stroke-width="3.2" stroke-linejoin="round" letter-spacing="0.8">25.5</text>
<text x="418.5" y="105.5" font-size="10" text-anchor="middle" fill="#fff" stroke="#fff" stroke-width="3.2" stroke-linejoin="round" letter-spacing="0.8">11.13</text>
<text x="480" y="105.5" font-size="10" text-anchor="middle" fill="#fff" stroke="#fff" stroke-width="3.2" stroke-linejoin="round" letter-spacing="0.8">11.13</text>
<text x="0" y="0" font-size="10" text-anchor="middle" fill="#fff" stroke="#fff" stroke-width="3.2" stroke-linejoin="round" letter-spacing="0.3" transform="translate(175 239.8) rotate(-90) scale(0.88 1.12)">66.7</text>
<text x="0" y="0" font-size="10" text-anchor="middle" fill="#fff" stroke="#fff" stroke-width="3.2" stroke-linejoin="round" letter-spacing="0.3" transform="translate(189.5 230) rotate(-90) scale(0.88 1.12)">22.13</text>
<text x="0" y="0" font-size="10" text-anchor="middle" fill="#fff" stroke="#fff" stroke-width="3.2" stroke-linejoin="round" letter-spacing="0.3" transform="translate(189 290.3) rotate(-90) scale(0.88 1.12)">13.5</text>
<text x="0" y="0" font-size="10" text-anchor="middle" fill="#fff" stroke="#fff" stroke-width="3.2" stroke-linejoin="round" letter-spacing="0.3" transform="translate(181.5 311.3) rotate(-90) scale(0.88 1.12)">22.13</text>
<text x="239" y="243.5" font-size="10" text-anchor="start" fill="#fff" stroke="#fff" stroke-width="3.2" stroke-linejoin="round" letter-spacing="0.8">0.38</text>
<text x="0" y="0" font-size="10" text-anchor="middle" fill="#fff" stroke="#fff" stroke-width="3.2" stroke-linejoin="round" letter-spacing="0.3" transform="translate(293.8 289) rotate(-90) scale(0.88 1.12)">18.38</text>
<text x="315.5" y="352.3" font-size="10" text-anchor="start" fill="#fff" stroke="#fff" stroke-width="3.2" stroke-linejoin="round" letter-spacing="0.8"><tspan letter-spacing="-0.3">Ø</tspan>4</text>
<text x="199" y="336" font-size="10" text-anchor="start" fill="#fff" stroke="#fff" stroke-width="3.2" stroke-linejoin="round" letter-spacing="0.8"><tspan letter-spacing="-0.3">Ø</tspan>1.5</text>
<text x="212.7" y="339.5" font-size="10" text-anchor="start" fill="#fff" stroke="#fff" stroke-width="3.2" stroke-linejoin="round" letter-spacing="0.8"><tspan letter-spacing="-0.3">Ø</tspan>2.5</text>
<text x="568.5" y="245.6" font-size="10" text-anchor="start" fill="#fff" stroke="#fff" stroke-width="3.2" stroke-linejoin="round" letter-spacing="0.8"><tspan letter-spacing="-0.3">Ø</tspan>4</text>
<text x="591.3" y="241.5" font-size="10" text-anchor="start" fill="#fff" stroke="#fff" stroke-width="3.2" stroke-linejoin="round" letter-spacing="0.8">1.63</text>
<text x="716" y="407.2" font-size="10" text-anchor="start" fill="#fff" stroke="#fff" stroke-width="3.2" stroke-linejoin="round" letter-spacing="0.8">R2.5</text>
<text x="701" y="411.6" font-size="10" text-anchor="start" fill="#fff" stroke="#fff" stroke-width="3.2" stroke-linejoin="round" letter-spacing="0.8">R1.6</text>
<text x="0" y="0" font-size="10" text-anchor="middle" fill="#fff" stroke="#fff" stroke-width="3.2" stroke-linejoin="round" letter-spacing="0.3" transform="translate(157.5 257.4) rotate(-90) scale(0.88 1.12)">63.99</text>
<text x="135.3" y="150.4" font-size="10" text-anchor="start" fill="#fff" stroke="#fff" stroke-width="3.2" stroke-linejoin="round" letter-spacing="0.8">1.65</text>
<text x="80.3" y="180.6" font-size="10" text-anchor="start" fill="#fff" stroke="#fff" stroke-width="3.2" stroke-linejoin="round" letter-spacing="0.8">0.2</text>
<text x="115.1" y="181" font-size="10" text-anchor="start" fill="#fff" stroke="#fff" stroke-width="3.2" stroke-linejoin="round" letter-spacing="0.8"><tspan letter-spacing="-0.3">Ø</tspan>1.25</text>
<text x="80.3" y="215.7" font-size="10" text-anchor="start" fill="#fff" stroke="#fff" stroke-width="3.2" stroke-linejoin="round" letter-spacing="0.8">1.4</text>
<text x="0" y="0" font-size="10" text-anchor="middle" fill="#fff" stroke="#fff" stroke-width="3.2" stroke-linejoin="round" letter-spacing="0.3" transform="translate(136 350.3) rotate(-90) scale(0.78 1.12)"><tspan letter-spacing="-0.3">Ø</tspan>3</text>
<text x="80" y="364.5" font-size="10" text-anchor="start" fill="#fff" stroke="#fff" stroke-width="3.2" stroke-linejoin="round" letter-spacing="0.8"><tspan letter-spacing="-0.3">Ø</tspan>4.25</text>
<text x="116" y="369.8" font-size="10" text-anchor="start" fill="#fff" stroke="#fff" stroke-width="3.2" stroke-linejoin="round" letter-spacing="0.8">3.5</text>
<text x="0" y="0" font-size="10" text-anchor="middle" fill="#fff" stroke="#fff" stroke-width="3.2" stroke-linejoin="round" letter-spacing="0.3" transform="translate(151.3 381.6) rotate(-90) scale(0.78 1.12)"><tspan letter-spacing="-0.3">Ø</tspan>4</text>
<text x="452" y="436.7" font-size="10" text-anchor="middle" fill="#fff" stroke="#fff" stroke-width="3.2" stroke-linejoin="round" letter-spacing="0.8">91.79</text>
<text x="208" y="440.8" font-size="10" text-anchor="start" fill="#fff" stroke="#fff" stroke-width="3.2" stroke-linejoin="round" letter-spacing="0.8"><tspan letter-spacing="-0.3">Ø</tspan>2.5</text>
<text x="235" y="445.8" font-size="10" text-anchor="start" fill="#fff" stroke="#fff" stroke-width="3.2" stroke-linejoin="round" letter-spacing="0.8"><tspan letter-spacing="-0.3">Ø</tspan>1.5</text>
<text x="227" y="458.2" font-size="10" text-anchor="start" fill="#fff" stroke="#fff" stroke-width="3.2" stroke-linejoin="round" letter-spacing="0.8">0.9</text>
<text x="0" y="0" font-size="10" text-anchor="middle" fill="#fff" stroke="#fff" stroke-width="3.2" stroke-linejoin="round" letter-spacing="0.3" transform="translate(187.8 459.5) rotate(-90) scale(0.9 1.12)">5</text>
<text x="279.2" y="486.7" font-size="10" text-anchor="start" fill="#fff" stroke="#fff" stroke-width="3.2" stroke-linejoin="round" letter-spacing="0.8">1.4</text>
<text x="347.5" y="465.5" font-size="10" text-anchor="start" fill="#fff" stroke="#fff" stroke-width="3.2" stroke-linejoin="round" letter-spacing="0.8">1</text>
<text x="334" y="482.4" font-size="10" text-anchor="start" fill="#fff" stroke="#fff" stroke-width="3.2" stroke-linejoin="round" letter-spacing="0.8">0.95</text>
<text x="405" y="462" font-size="10" text-anchor="start" fill="#fff" stroke="#fff" stroke-width="3.2" stroke-linejoin="round" letter-spacing="0.8">1</text>
<text x="416.3" y="487.5" font-size="10" text-anchor="start" fill="#fff" stroke="#fff" stroke-width="3.2" stroke-linejoin="round" letter-spacing="0.8">0.9</text>
<text x="451" y="461.3" font-size="10" text-anchor="start" fill="#fff" stroke="#fff" stroke-width="3.2" stroke-linejoin="round" letter-spacing="0.8">2°</text>
<text x="0" y="0" font-size="10" text-anchor="middle" fill="#fff" stroke="#fff" stroke-width="3.2" stroke-linejoin="round" letter-spacing="0.3" transform="translate(501.5 456.5) rotate(-65) scale(0.95 1.0)">55°</text>
<text x="526.7" y="484.2" font-size="10" text-anchor="start" fill="#fff" stroke="#fff" stroke-width="3.2" stroke-linejoin="round" letter-spacing="0.8">4°</text>
<text x="545.8" y="459.2" font-size="10" text-anchor="start" fill="#fff" stroke="#fff" stroke-width="3.2" stroke-linejoin="round" letter-spacing="0.8"><tspan letter-spacing="-0.3">Ø</tspan>1.25</text>
<text x="583.3" y="484.2" font-size="10" text-anchor="start" fill="#fff" stroke="#fff" stroke-width="3.2" stroke-linejoin="round" letter-spacing="0.8">16°</text>
<text x="607" y="454.6" font-size="10" text-anchor="start" fill="#fff" stroke="#fff" stroke-width="3.2" stroke-linejoin="round" letter-spacing="0.8"><tspan letter-spacing="-0.3">Ø</tspan>4</text>
<text x="626.5" y="453.4" font-size="10" text-anchor="start" fill="#fff" stroke="#fff" stroke-width="3.2" stroke-linejoin="round" letter-spacing="0.8">1.9</text>
<text x="641.8" y="444.4" font-size="10" text-anchor="start" fill="#fff" stroke="#fff" stroke-width="3.2" stroke-linejoin="round" letter-spacing="0.8"><tspan letter-spacing="-0.3">Ø</tspan>1.75</text>
<text x="637.8" y="488.9" font-size="10" text-anchor="start" fill="#fff" stroke="#fff" stroke-width="3.2" stroke-linejoin="round" letter-spacing="0.8"><tspan letter-spacing="-0.3">Ø</tspan>3.25</text>
<text x="699.7" y="491.6" font-size="10" text-anchor="start" fill="#fff" stroke="#fff" stroke-width="3.2" stroke-linejoin="round" letter-spacing="0.8">1.5</text>
<text x="482" y="79.5" font-size="10" text-anchor="middle" fill="#0000f0" stroke="#0000f0" stroke-width="0.45" letter-spacing="0.8">94.5</text>
<text x="315" y="85.9" font-size="10" text-anchor="middle" fill="#0000f0" stroke="#0000f0" stroke-width="0.45" letter-spacing="0.8">42.2</text>
<text x="353.7" y="92.6" font-size="10" text-anchor="middle" fill="#0000f0" stroke="#0000f0" stroke-width="0.45" letter-spacing="0.8">33.5</text>
<text x="549" y="92.5" font-size="10" text-anchor="middle" fill="#0000f0" stroke="#0000f0" stroke-width="0.45" letter-spacing="0.8">33.5</text>
<text x="378" y="99.3" font-size="10" text-anchor="middle" fill="#0000f0" stroke="#0000f0" stroke-width="0.45" letter-spacing="0.8">25.5</text>
<text x="525" y="99" font-size="10" text-anchor="middle" fill="#0000f0" stroke="#0000f0" stroke-width="0.45" letter-spacing="0.8">25.5</text>
<text x="418.5" y="105.5" font-size="10" text-anchor="middle" fill="#0000f0" stroke="#0000f0" stroke-width="0.45" letter-spacing="0.8">11.13</text>
<text x="480" y="105.5" font-size="10" text-anchor="middle" fill="#0000f0" stroke="#0000f0" stroke-width="0.45" letter-spacing="0.8">11.13</text>
<text x="0" y="0" font-size="10" text-anchor="middle" fill="#0000f0" stroke="#0000f0" stroke-width="0.45" letter-spacing="0.3" transform="translate(175 239.8) rotate(-90) scale(0.88 1.12)">66.7</text>
<text x="0" y="0" font-size="10" text-anchor="middle" fill="#0000f0" stroke="#0000f0" stroke-width="0.45" letter-spacing="0.3" transform="translate(189.5 230) rotate(-90) scale(0.88 1.12)">22.13</text>
<text x="0" y="0" font-size="10" text-anchor="middle" fill="#0000f0" stroke="#0000f0" stroke-width="0.45" letter-spacing="0.3" transform="translate(189 290.3) rotate(-90) scale(0.88 1.12)">13.5</text>
<text x="0" y="0" font-size="10" text-anchor="middle" fill="#0000f0" stroke="#0000f0" stroke-width="0.45" letter-spacing="0.3" transform="translate(181.5 311.3) rotate(-90) scale(0.88 1.12)">22.13</text>
<text x="239" y="243.5" font-size="10" text-anchor="start" fill="#0000f0" stroke="#0000f0" stroke-width="0.45" letter-spacing="0.8">0.38</text>
<text x="0" y="0" font-size="10" text-anchor="middle" fill="#0000f0" stroke="#0000f0" stroke-width="0.45" letter-spacing="0.3" transform="translate(293.8 289) rotate(-90) scale(0.88 1.12)">18.38</text>
<text x="315.5" y="352.3" font-size="10" text-anchor="start" fill="#0000f0" stroke="#0000f0" stroke-width="0.45" letter-spacing="0.8"><tspan letter-spacing="-0.3">Ø</tspan>4</text>
<text x="199" y="336" font-size="10" text-anchor="start" fill="#0000f0" stroke="#0000f0" stroke-width="0.45" letter-spacing="0.8"><tspan letter-spacing="-0.3">Ø</tspan>1.5</text>
<text x="212.7" y="339.5" font-size="10" text-anchor="start" fill="#0000f0" stroke="#0000f0" stroke-width="0.45" letter-spacing="0.8"><tspan letter-spacing="-0.3">Ø</tspan>2.5</text>
<text x="568.5" y="245.6" font-size="10" text-anchor="start" fill="#0000f0" stroke="#0000f0" stroke-width="0.45" letter-spacing="0.8"><tspan letter-spacing="-0.3">Ø</tspan>4</text>
<text x="591.3" y="241.5" font-size="10" text-anchor="start" fill="#0000f0" stroke="#0000f0" stroke-width="0.45" letter-spacing="0.8">1.63</text>
<text x="716" y="407.2" font-size="10" text-anchor="start" fill="#0000f0" stroke="#0000f0" stroke-width="0.45" letter-spacing="0.8">R2.5</text>
<text x="701" y="411.6" font-size="10" text-anchor="start" fill="#0000f0" stroke="#0000f0" stroke-width="0.45" letter-spacing="0.8">R1.6</text>
<text x="0" y="0" font-size="10" text-anchor="middle" fill="#0000f0" stroke="#0000f0" stroke-width="0.45" letter-spacing="0.3" transform="translate(157.5 257.4) rotate(-90) scale(0.88 1.12)">63.99</text>
<text x="135.3" y="150.4" font-size="10" text-anchor="start" fill="#0000f0" stroke="#0000f0" stroke-width="0.45" letter-spacing="0.8">1.65</text>
<text x="80.3" y="180.6" font-size="10" text-anchor="start" fill="#0000f0" stroke="#0000f0" stroke-width="0.45" letter-spacing="0.8">0.2</text>
<text x="115.1" y="181" font-size="10" text-anchor="start" fill="#0000f0" stroke="#0000f0" stroke-width="0.45" letter-spacing="0.8"><tspan letter-spacing="-0.3">Ø</tspan>1.25</text>
<text x="80.3" y="215.7" font-size="10" text-anchor="start" fill="#0000f0" stroke="#0000f0" stroke-width="0.45" letter-spacing="0.8">1.4</text>
<text x="0" y="0" font-size="10" text-anchor="middle" fill="#0000f0" stroke="#0000f0" stroke-width="0.45" letter-spacing="0.3" transform="translate(136 350.3) rotate(-90) scale(0.78 1.12)"><tspan letter-spacing="-0.3">Ø</tspan>3</text>
<text x="80" y="364.5" font-size="10" text-anchor="start" fill="#0000f0" stroke="#0000f0" stroke-width="0.45" letter-spacing="0.8"><tspan letter-spacing="-0.3">Ø</tspan>4.25</text>
<text x="116" y="369.8" font-size="10" text-anchor="start" fill="#0000f0" stroke="#0000f0" stroke-width="0.45" letter-spacing="0.8">3.5</text>
<text x="0" y="0" font-size="10" text-anchor="middle" fill="#0000f0" stroke="#0000f0" stroke-width="0.45" letter-spacing="0.3" transform="translate(151.3 381.6) rotate(-90) scale(0.78 1.12)"><tspan letter-spacing="-0.3">Ø</tspan>4</text>
<text x="452" y="436.7" font-size="10" text-anchor="middle" fill="#0000f0" stroke="#0000f0" stroke-width="0.45" letter-spacing="0.8">91.79</text>
<text x="208" y="440.8" font-size="10" text-anchor="start" fill="#0000f0" stroke="#0000f0" stroke-width="0.45" letter-spacing="0.8"><tspan letter-spacing="-0.3">Ø</tspan>2.5</text>
<text x="235" y="445.8" font-size="10" text-anchor="start" fill="#0000f0" stroke="#0000f0" stroke-width="0.45" letter-spacing="0.8"><tspan letter-spacing="-0.3">Ø</tspan>1.5</text>
<text x="227" y="458.2" font-size="10" text-anchor="start" fill="#0000f0" stroke="#0000f0" stroke-width="0.45" letter-spacing="0.8">0.9</text>
<text x="0" y="0" font-size="10" text-anchor="middle" fill="#0000f0" stroke="#0000f0" stroke-width="0.45" letter-spacing="0.3" transform="translate(187.8 459.5) rotate(-90) scale(0.9 1.12)">5</text>
<text x="279.2" y="486.7" font-size="10" text-anchor="start" fill="#0000f0" stroke="#0000f0" stroke-width="0.45" letter-spacing="0.8">1.4</text>
<text x="347.5" y="465.5" font-size="10" text-anchor="start" fill="#0000f0" stroke="#0000f0" stroke-width="0.45" letter-spacing="0.8">1</text>
<text x="334" y="482.4" font-size="10" text-anchor="start" fill="#0000f0" stroke="#0000f0" stroke-width="0.45" letter-spacing="0.8">0.95</text>
<text x="405" y="462" font-size="10" text-anchor="start" fill="#0000f0" stroke="#0000f0" stroke-width="0.45" letter-spacing="0.8">1</text>
<text x="416.3" y="487.5" font-size="10" text-anchor="start" fill="#0000f0" stroke="#0000f0" stroke-width="0.45" letter-spacing="0.8">0.9</text>
<text x="451" y="461.3" font-size="10" text-anchor="start" fill="#0000f0" stroke="#0000f0" stroke-width="0.45" letter-spacing="0.8">2°</text>
<text x="0" y="0" font-size="10" text-anchor="middle" fill="#0000f0" stroke="#0000f0" stroke-width="0.45" letter-spacing="0.3" transform="translate(501.5 456.5) rotate(-65) scale(0.95 1.0)">55°</text>
<text x="526.7" y="484.2" font-size="10" text-anchor="start" fill="#0000f0" stroke="#0000f0" stroke-width="0.45" letter-spacing="0.8">4°</text>
<text x="545.8" y="459.2" font-size="10" text-anchor="start" fill="#0000f0" stroke="#0000f0" stroke-width="0.45" letter-spacing="0.8"><tspan letter-spacing="-0.3">Ø</tspan>1.25</text>
<text x="583.3" y="484.2" font-size="10" text-anchor="start" fill="#0000f0" stroke="#0000f0" stroke-width="0.45" letter-spacing="0.8">16°</text>
<text x="607" y="454.6" font-size="10" text-anchor="start" fill="#0000f0" stroke="#0000f0" stroke-width="0.45" letter-spacing="0.8"><tspan letter-spacing="-0.3">Ø</tspan>4</text>
<text x="626.5" y="453.4" font-size="10" text-anchor="start" fill="#0000f0" stroke="#0000f0" stroke-width="0.45" letter-spacing="0.8">1.9</text>
<text x="641.8" y="444.4" font-size="10" text-anchor="start" fill="#0000f0" stroke="#0000f0" stroke-width="0.45" letter-spacing="0.8"><tspan letter-spacing="-0.3">Ø</tspan>1.75</text>
<text x="637.8" y="488.9" font-size="10" text-anchor="start" fill="#0000f0" stroke="#0000f0" stroke-width="0.45" letter-spacing="0.8"><tspan letter-spacing="-0.3">Ø</tspan>3.25</text>
<text x="699.7" y="491.6" font-size="10" text-anchor="start" fill="#0000f0" stroke="#0000f0" stroke-width="0.45" letter-spacing="0.8">1.5</text>
</svg></body></html>
